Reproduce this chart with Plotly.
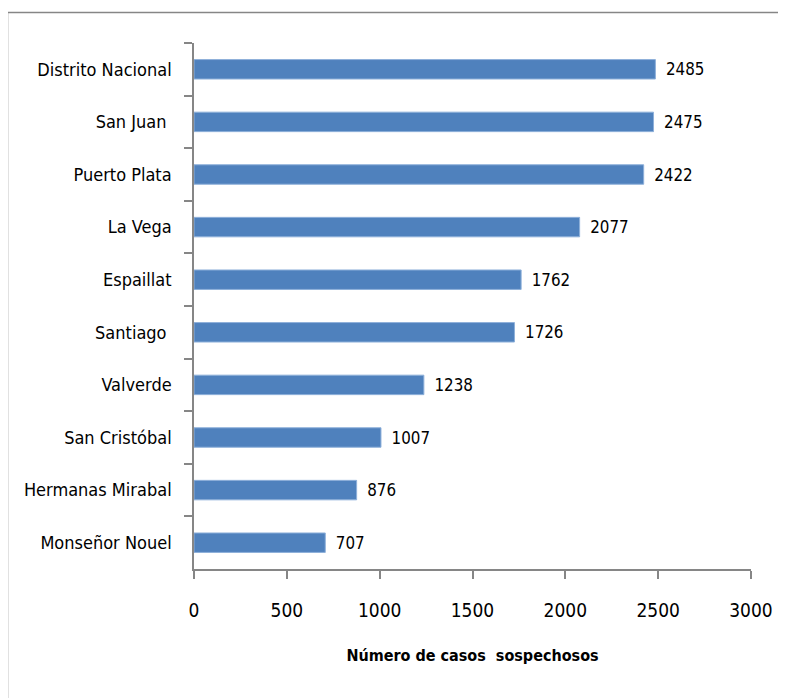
import plotly.graph_objects as go

provincias = ["Distrito Nacional", "San Juan\u00a0", "Puerto Plata", "La Vega", "Espaillat",
              "Santiago\u00a0", "Valverde", "San Cristóbal", "Hermanas Mirabal", "Monseñor Nouel"]
casos = [2485, 2475, 2422, 2077, 1762, 1726, 1238, 1007, 876, 707]
x_ticks = [0, 500, 1000, 1500, 2000, 2500, 3000]

FONT = "DejaVu Sans Condensed, Liberation Sans Narrow, sans-serif"
FS_Y = 18
FS_NUM = 19
FS_TITLE = 16

OFF = 8  # page offset
W, H = 786, 698
L = 194 - OFF
R = W - (751 - OFF)
T = 43 - OFF
B = H - (569 - OFF)
pw, ph = W - L - R, H - T - B

def px_x(p):
    return (p - OFF - L) / pw

def px_y(p):
    return (H - B - (p - OFF)) / ph

fig = go.Figure(go.Bar(
    y=provincias, x=casos, orientation="h",
    marker=dict(color="#4F81BD", line=dict(color="#8EB0DA", width=1)),
    text=["\u2002" + str(v) for v in casos], textposition="outside",
    textfont=dict(family=FONT, size=FS_NUM, color="#000000"),
    cliponaxis=False, hoverinfo="skip",
))

fig.update_layout(
    width=W, height=H,
    margin=dict(l=L, r=R, t=T, b=B, pad=0),
    paper_bgcolor="white", plot_bgcolor="white",
    showlegend=False, bargap=0.63,
    font=dict(family=FONT, size=FS_Y, color="#000000"),
    xaxis=dict(range=[0, 3000], tickvals=x_ticks, ticktext=[str(v) for v in x_ticks],
               showgrid=False, zeroline=False, showline=True, linecolor="#868686", linewidth=1.5,
               ticks="outside", ticklen=8, tickcolor="#868686", tickwidth=1.5,
               ticklabelstandoff=15,
               tickfont=dict(family=FONT, size=FS_NUM),
               title=dict(text="<b>Número de casos  sospechosos</b>",
                          font=dict(family=FONT, size=FS_TITLE), standoff=30)),
    yaxis=dict(autorange="reversed", showgrid=False, zeroline=False, showline=True,
               linecolor="#868686", linewidth=1.5, ticks="outside", ticklen=8,
               tickcolor="#868686", tickwidth=1.5, tickson="boundaries",
               ticklabelstandoff=17, tickfont=dict(family=FONT, size=FS_Y)),
    shapes=[dict(type="rect", xref="paper", yref="paper",
                 x0=px_x(7.5), x1=px_x(800), y0=px_y(710), y1=px_y(12.5),
                 line=dict(color="#868686", width=1.5), fillcolor="rgba(0,0,0,0)", layer="below")],
)

fig.write_html("out.html")
